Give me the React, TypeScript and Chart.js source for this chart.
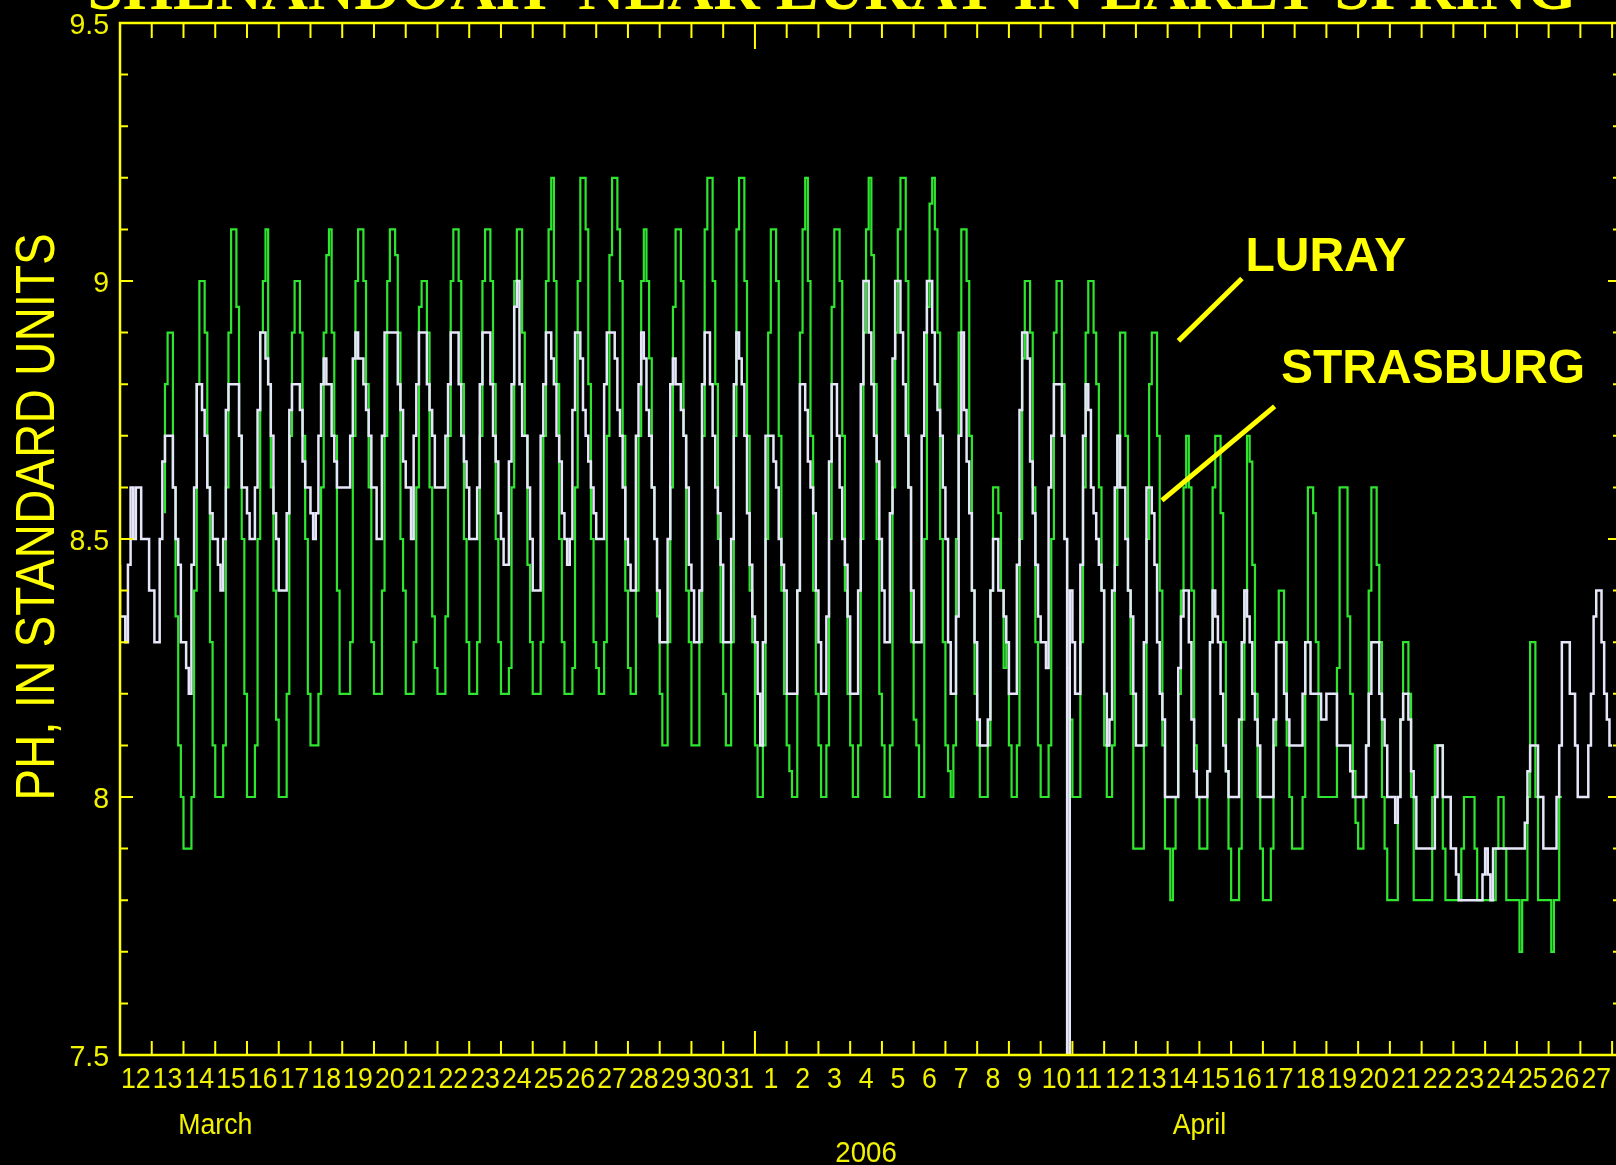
import React, { useEffect, useRef } from 'react';
import { Chart, registerables } from 'chart.js';

Chart.register(...registerables);

// ---------- data ----------
const MARCH_DAYS = [12, 13, 14, 15, 16, 17, 18, 19, 20, 21, 22, 23, 24, 25, 26, 27, 28, 29, 30, 31];
const APRIL_DAYS = [1, 2, 3, 4, 5, 6, 7, 8, 9, 10, 11, 12, 13, 14, 15, 16, 17, 18, 19, 20, 21, 22, 23, 24, 25, 26, 27];
const DAY_LABELS = [...MARCH_DAYS, ...APRIL_DAYS].map(String);
const MONTH_LABELS = ['March', 'April'];
const MONTH_LABEL_DAYS = [3.0, 34.0];
const YEAR_LABEL = '2006';
const YEAR_LABEL_DAY = 23.5;
const Y_TICK_VALUES = [9.5, 9, 8.5, 8, 7.5];
const Y_TICK_LABELS = ['9.5', '9', '8.5', '8', '7.5'];
const SLOTS_PER_DAY = 12; // one reading every 2 hours, starting 12 March 00:00

// Shenandoah near Luray (green)
const LURAY = [
  null, null, null, null, null, null, null, null, null, null, null, null,
  null, null, null, null, null, 8.55, 8.8, 8.9, 8.9, 8.6, 8.35, 8.1,
  8.0, 7.9, 7.9, 7.9, 8.0, 8.4, 8.8, 9.0, 9.0, 8.9, 8.6, 8.3,
  8.1, 8.0, 8.0, 8.0, 8.1, 8.6, 8.9, 9.1, 9.1, 8.95, 8.7, 8.5,
  8.2, 8.0, 8.0, 8.0, 8.1, 8.5, 8.9, 9.0, 9.1, 8.8, 8.6, 8.4,
  8.15, 8.0, 8.0, 8.0, 8.2, 8.7, 8.9, 9.0, 9.0, 8.9, 8.7, 8.5,
  8.2, 8.1, 8.1, 8.1, 8.2, 8.6, 8.9, 9.05, 9.1, 8.9, 8.7, 8.4,
  8.2, 8.2, 8.2, 8.2, 8.3, 8.7, 9.0, 9.1, 9.1, 9.0, 8.8, 8.6,
  8.3, 8.2, 8.2, 8.2, 8.4, 8.7, 9.0, 9.1, 9.1, 9.05, 8.9, 8.5,
  8.4, 8.2, 8.2, 8.2, 8.3, 8.6, 8.95, 9.0, 9.0, 8.9, 8.6, 8.35,
  8.25, 8.2, 8.2, 8.2, 8.35, 8.7, 9.0, 9.1, 9.1, 9.0, 8.8, 8.5,
  8.3, 8.2, 8.2, 8.2, 8.3, 8.7, 9.0, 9.1, 9.1, 9.0, 8.8, 8.5,
  8.3, 8.2, 8.2, 8.2, 8.25, 8.6, 9.0, 9.1, 9.1, 8.9, 8.7, 8.45,
  8.3, 8.2, 8.2, 8.2, 8.3, 8.7, 9.0, 9.1, 9.2, 9.0, 8.8, 8.5,
  8.3, 8.2, 8.2, 8.2, 8.25, 8.6, 9.0, 9.2, 9.2, 9.1, 8.8, 8.5,
  8.3, 8.25, 8.2, 8.2, 8.3, 8.7, 9.05, 9.2, 9.2, 9.1, 9.0, 8.7,
  8.4, 8.25, 8.2, 8.2, 8.4, 8.7, 9.0, 9.1, 9.0, 8.85, 8.6, 8.5,
  8.35, 8.2, 8.1, 8.1, 8.3, 8.6, 8.95, 9.1, 9.1, 9.0, 8.7, 8.4,
  8.3, 8.1, 8.1, 8.1, 8.3, 8.7, 9.1, 9.2, 9.2, 9.0, 8.8, 8.5,
  8.3, 8.2, 8.1, 8.1, 8.3, 8.7, 9.1, 9.2, 9.2, 9.0, 8.7, 8.4,
  8.3, 8.1, 8.0, 8.0, 8.1, 8.5, 8.9, 9.1, 9.1, 9.0, 8.7, 8.4,
  8.2, 8.1, 8.05, 8.0, 8.0, 8.4, 8.9, 9.1, 9.2, 9.0, 8.7, 8.4,
  8.2, 8.1, 8.0, 8.0, 8.1, 8.5, 8.95, 9.1, 9.1, 9.0, 8.7, 8.4,
  8.2, 8.1, 8.0, 8.0, 8.1, 8.5, 8.9, 9.1, 9.2, 9.05, 8.8, 8.5,
  8.2, 8.1, 8.0, 8.0, 8.1, 8.6, 8.9, 9.1, 9.2, 9.2, 9.0, 8.6,
  8.3, 8.15, 8.1, 8.0, 8.0, 8.5, 8.95, 9.15, 9.2, 9.1, 8.9, 8.5,
  8.3, 8.1, 8.05, 8.0, 8.1, 8.5, 8.9, 9.1, 9.1, 9.0, 8.7, 8.4,
  8.2, 8.1, 8.0, 8.0, 8.0, 8.1, 8.4, 8.6, 8.6, 8.55, 8.4, 8.25,
  8.3, 8.1, 8.0, 8.0, 8.1, 8.5, 8.85, 9.0, 9.0, 8.9, 8.6, 8.3,
  8.1, 8.0, 8.0, 8.0, 8.1, 8.5, 8.9, 9.0, 9.0, 8.8, 8.5, 8.25,
  8.15, 8.0, 8.0, 8.0, 8.3, 8.6, 8.9, 9.0, 9.0, 8.9, 8.8, 8.6,
  8.4, 8.1, 8.0, 8.0, 8.1, 8.45, 8.7, 8.9, 8.9, 8.7, 8.4, 8.2,
  7.9, 7.9, 7.9, 7.9, 8.1, 8.5, 8.8, 8.9, 8.9, 8.7, 8.4, 8.1,
  7.9, 7.9, 7.8, 7.9, 8.0, 8.2, 8.4, 8.6, 8.7, 8.6, 8.4, 8.1,
  8.0, 7.9, 7.9, 7.9, 8.05, 8.3, 8.6, 8.7, 8.7, 8.55, 8.3, 8.05,
  7.9, 7.8, 7.8, 7.8, 7.9, 8.15, 8.4, 8.7, 8.65, 8.45, 8.2, 8.0,
  7.9, 7.8, 7.8, 7.8, 7.9, 8.1, 8.3, 8.4, 8.4, 8.3, 8.1, 8.0,
  7.9, 7.9, 7.9, 7.9, 8.0, 8.3, 8.6, 8.6, 8.55, 8.3, 8.0, 8.0,
  8.0, 8.0, 8.0, 8.0, 8.0, 8.25, 8.6, 8.6, 8.6, 8.35, 8.2, 8.05,
  7.95, 7.9, 7.9, 8.0, 8.1, 8.4, 8.6, 8.6, 8.45, 8.3, 8.0, 7.9,
  7.8, 7.8, 7.8, 7.8, 8.0, 8.15, 8.3, 8.3, 8.2, 8.0, 7.8, 7.8,
  7.8, 7.8, 7.8, 7.8, 7.8, 8.0, 8.1, 8.1, 8.1, 7.9, 7.8, 7.8,
  7.8, 7.8, 7.8, 7.8, 7.9, 8.0, 8.0, 8.0, 8.0, 7.9, 7.8, 7.8,
  7.8, 7.8, 7.8, 7.8, 7.8, 7.9, 8.0, 8.0, 7.9, 7.8, 7.8, 7.8,
  7.8, 7.8, 7.7, 7.8, 7.8, 8.0, 8.3, 8.3, 8.0, 7.8, 7.8, 7.8,
  7.8, 7.8, 7.7, 7.8, 7.8, 8.0, null, null, null, null, null, null,
  null, null, null, null, null, null, null, null, null, null, null, null,
  null,
];

// North Fork Shenandoah at Strasburg (white)
const STRASBURG = [
  8.45, 8.35, 8.35, 8.3, 8.45, 8.6, 8.5, 8.6, 8.6, 8.5, 8.5, 8.5,
  8.4, 8.4, 8.3, 8.3, 8.5, 8.65, 8.7, 8.7, 8.7, 8.6, 8.5, 8.45,
  8.3, 8.3, 8.25, 8.2, 8.45, 8.6, 8.8, 8.8, 8.75, 8.7, 8.6, 8.55,
  8.5, 8.5, 8.45, 8.4, 8.5, 8.75, 8.8, 8.8, 8.8, 8.8, 8.7, 8.6,
  8.6, 8.55, 8.5, 8.5, 8.6, 8.75, 8.9, 8.9, 8.85, 8.8, 8.7, 8.55,
  8.5, 8.4, 8.4, 8.4, 8.55, 8.75, 8.8, 8.8, 8.8, 8.75, 8.65, 8.6,
  8.6, 8.55, 8.5, 8.55, 8.7, 8.8, 8.85, 8.8, 8.8, 8.7, 8.65, 8.6,
  8.6, 8.6, 8.6, 8.6, 8.7, 8.85, 8.9, 8.85, 8.85, 8.8, 8.75, 8.7,
  8.6, 8.6, 8.5, 8.5, 8.7, 8.9, 8.9, 8.9, 8.9, 8.9, 8.8, 8.75,
  8.65, 8.6, 8.6, 8.5, 8.7, 8.8, 8.9, 8.9, 8.9, 8.8, 8.75, 8.7,
  8.6, 8.6, 8.6, 8.6, 8.7, 8.8, 8.9, 8.9, 8.9, 8.8, 8.7, 8.65,
  8.6, 8.5, 8.5, 8.5, 8.6, 8.8, 8.9, 8.9, 8.9, 8.8, 8.7, 8.65,
  8.55, 8.5, 8.45, 8.45, 8.65, 8.8, 8.95, 9.0, 8.8, 8.7, 8.7, 8.6,
  8.5, 8.4, 8.4, 8.4, 8.7, 8.8, 8.9, 8.9, 8.85, 8.8, 8.7, 8.65,
  8.55, 8.5, 8.45, 8.5, 8.75, 8.9, 8.9, 8.85, 8.75, 8.7, 8.65, 8.6,
  8.55, 8.5, 8.5, 8.5, 8.8, 8.9, 8.9, 8.9, 8.85, 8.75, 8.7, 8.6,
  8.5, 8.45, 8.4, 8.4, 8.7, 8.8, 8.9, 8.85, 8.75, 8.7, 8.6, 8.5,
  8.4, 8.3, 8.3, 8.3, 8.5, 8.8, 8.85, 8.8, 8.8, 8.75, 8.7, 8.6,
  8.45, 8.4, 8.3, 8.3, 8.4, 8.8, 8.9, 8.9, 8.8, 8.7, 8.6, 8.55,
  8.45, 8.3, 8.3, 8.3, 8.5, 8.8, 8.9, 8.85, 8.8, 8.7, 8.55, 8.45,
  8.35, 8.3, 8.2, 8.1, 8.3, 8.7, 8.7, 8.7, 8.65, 8.6, 8.5, 8.45,
  8.4, 8.2, 8.2, 8.2, 8.2, 8.4, 8.8, 8.8, 8.75, 8.65, 8.6, 8.55,
  8.4, 8.3, 8.2, 8.2, 8.35, 8.65, 8.8, 8.8, 8.7, 8.6, 8.5, 8.45,
  8.35, 8.2, 8.2, 8.2, 8.4, 8.8, 9.0, 9.0, 8.9, 8.8, 8.7, 8.65,
  8.5, 8.4, 8.3, 8.3, 8.55, 8.85, 9.0, 9.0, 8.9, 8.8, 8.7, 8.6,
  8.4, 8.3, 8.3, 8.3, 8.7, 8.9, 9.0, 9.0, 8.9, 8.8, 8.75, 8.7,
  8.6, 8.5, 8.3, 8.2, 8.2, 8.35, 8.7, 8.9, 8.75, 8.65, 8.55, 8.4,
  8.3, 8.15, 8.1, 8.1, 8.1, 8.15, 8.4, 8.5, 8.5, 8.4, 8.4, 8.35,
  8.3, 8.2, 8.2, 8.2, 8.45, 8.75, 8.9, 8.9, 8.85, 8.65, 8.55, 8.45,
  8.35, 8.3, 8.3, 8.25, 8.6, 8.7, 8.8, 8.8, 8.8, 8.7, 8.5, 7.5,
  8.4, 8.3, 8.2, 8.2, 8.45, 8.7, 8.8, 8.75, 8.6, 8.55, 8.5, 8.45,
  8.4, 8.2, 8.1, 8.15, 8.4, 8.6, 8.7, 8.6, 8.6, 8.5, 8.4, 8.35,
  8.2, 8.1, 8.1, 8.1, 8.3, 8.6, 8.6, 8.55, 8.45, 8.3, 8.2, 8.15,
  8.0, 8.0, 8.0, 8.0, 8.0, 8.25, 8.35, 8.4, 8.4, 8.3, 8.15, 8.05,
  8.0, 8.0, 8.0, 8.0, 8.05, 8.3, 8.4, 8.35, 8.3, 8.2, 8.1, 8.05,
  8.0, 8.0, 8.0, 8.0, 8.15, 8.3, 8.4, 8.35, 8.3, 8.2, 8.15, 8.1,
  8.0, 8.0, 8.0, 8.0, 8.0, 8.15, 8.3, 8.3, 8.3, 8.2, 8.15, 8.1,
  8.1, 8.1, 8.1, 8.1, 8.2, 8.3, 8.3, 8.2, 8.2, 8.2, 8.2, 8.15,
  8.15, 8.2, 8.2, 8.2, 8.2, 8.1, 8.1, 8.1, 8.1, 8.1, 8.05, 8.0,
  8.0, 8.0, 8.0, 8.0, 8.1, 8.2, 8.3, 8.3, 8.3, 8.2, 8.15, 8.1,
  8.0, 8.0, 8.0, 7.95, 8.0, 8.15, 8.2, 8.2, 8.15, 8.05, 8.0, 7.9,
  7.9, 7.9, 7.9, 7.9, 7.9, 7.9, 8.0, 8.1, 8.1, 8.0, 8.0, 8.0,
  7.9, 7.9, 7.85, 7.8, 7.8, 7.8, 7.8, 7.8, 7.8, 7.8, 7.8, 7.8,
  7.85, 7.9, 7.85, 7.8, 7.9, 7.9, 7.9, 7.9, 7.9, 7.9, 7.9, 7.9,
  7.9, 7.9, 7.9, 7.9, 7.95, 8.05, 8.1, 8.1, 8.1, 8.0, 8.0, 7.9,
  7.9, 7.9, 7.9, 7.9, 8.0, 8.1, 8.3, 8.3, 8.3, 8.2, 8.2, 8.1,
  8.0, 8.0, 8.0, 8.0, 8.1, 8.2, 8.35, 8.4, 8.4, 8.3, 8.2, 8.15,
  8.1,
];

// ---------- styling ----------
const YELLOW = '#ffff00';
const LABEL_YELLOW = '#f2f200';
const GREEN = '#2fe62f';
const WHITE = '#e6e6fa';
const SANS = '"Liberation Sans", Arial, Helvetica, sans-serif';
const SERIF = '"Liberation Serif", "Times New Roman", serif';
const CANVAS_W = 1630;
const CANVAS_H = 1165;
const X_MAX = 47.28;

const ANNOTATIONS = [
  { text: 'LURAY', day: 35.45, ph: 9.019, from: [35.34, 9.005], to: [33.34, 8.884] },
  { text: 'STRASBURG', day: 36.57, ph: 8.803, from: [36.37, 8.757], to: [32.82, 8.575] },
];

function toPoints(values: (number | null)[]) {
  return values.map((v, i) => ({ x: i / SLOTS_PER_DAY, y: v }));
}

function drawScaledText(ctx: CanvasRenderingContext2D, text: string, x: number, y: number, sx: number, align: CanvasTextAlign) {
  ctx.save();
  ctx.translate(x, y);
  ctx.scale(sx, 1);
  ctx.textAlign = align;
  ctx.textBaseline = 'alphabetic';
  ctx.fillText(text, 0, 0);
  ctx.restore();
}

const frameAndLabels = {
  id: 'frameAndLabels',
  afterDraw(chart: any) {
    const { ctx, chartArea: a, scales } = chart;
    const xs = scales.x;
    const ys = scales.y;
    ctx.save();

    // frame
    ctx.strokeStyle = YELLOW;
    ctx.lineWidth = 2.5;
    ctx.strokeRect(a.left, a.top, a.right - a.left, a.bottom - a.top);

    // ticks
    ctx.lineWidth = 2;
    ctx.beginPath();
    for (let d = 1; d <= DAY_LABELS.length; d++) {
      const px = xs.getPixelForValue(d);
      const big = d === MARCH_DAYS.length;
      ctx.moveTo(px, a.bottom);
      ctx.lineTo(px, a.bottom - (big ? 24 : 14));
      ctx.moveTo(px, a.top);
      ctx.lineTo(px, a.top + (big ? 26 : 15));
    }
    for (let k = 0; k <= 20; k++) {
      const py = ys.getPixelForValue(7.5 + k * 0.1);
      const len = k % 5 === 0 ? 13 : 8;
      ctx.moveTo(a.left, py);
      ctx.lineTo(a.left + len, py);
      ctx.moveTo(a.right, py);
      ctx.lineTo(a.right - len, py);
    }
    ctx.stroke();

    // y tick labels
    ctx.fillStyle = LABEL_YELLOW;
    ctx.font = `30px ${SANS}`;
    Y_TICK_VALUES.forEach((v, i) => {
      drawScaledText(ctx, Y_TICK_LABELS[i], 109, ys.getPixelForValue(v) + 10.8, 0.95, 'right');
    });

    // day labels
    DAY_LABELS.forEach((lab, i) => {
      drawScaledText(ctx, lab, xs.getPixelForValue(i + 0.5), a.bottom + 33, 0.89, 'center');
    });
    MONTH_LABELS.forEach((m, i) => {
      drawScaledText(ctx, m, xs.getPixelForValue(MONTH_LABEL_DAYS[i]), a.bottom + 79, 0.89, 'center');
    });
    drawScaledText(ctx, YEAR_LABEL, xs.getPixelForValue(YEAR_LABEL_DAY), a.bottom + 107, 0.92, 'center');

    // axis title
    ctx.fillStyle = YELLOW;
    ctx.font = `56px ${SANS}`;
    ctx.save();
    ctx.translate(53.5, 517);
    ctx.rotate(-Math.PI / 2);
    drawScaledText(ctx, 'PH, IN STANDARD UNITS', 0, 0, 0.85, 'center');
    ctx.restore();

    // chart title (cropped at top)
    ctx.font = `bold 64px ${SERIF}`;
    drawScaledText(ctx, 'SHENANDOAH  NEAR LURAY IN EARLY SPRING', 832, 9, 1, 'center');

    // annotations
    ctx.strokeStyle = YELLOW;
    ctx.lineWidth = 5;
    ctx.lineCap = 'butt';
    ctx.font = `bold 48px ${SANS}`;
    ANNOTATIONS.forEach((an) => {
      ctx.beginPath();
      ctx.moveTo(xs.getPixelForValue(an.from[0]), ys.getPixelForValue(an.from[1]));
      ctx.lineTo(xs.getPixelForValue(an.to[0]), ys.getPixelForValue(an.to[1]));
      ctx.stroke();
      drawScaledText(ctx, an.text, xs.getPixelForValue(an.day), ys.getPixelForValue(an.ph), 1, 'left');
    });

    ctx.restore();
  },
};

export default function App() {
  const canvasRef = useRef<HTMLCanvasElement | null>(null);

  useEffect(() => {
    document.body.style.margin = '0';
    document.body.style.overflow = 'hidden';
    document.body.style.background = '#000';
    document.documentElement.style.overflow = 'hidden';
    const canvas = canvasRef.current;
    if (!canvas) return;
    const chart = new Chart(canvas, {
      type: 'line',
      data: {
        datasets: [
          {
            label: 'STRASBURG',
            data: toPoints(STRASBURG),
            borderColor: WHITE,
            borderWidth: 2.5,
            stepped: 'after',
            pointRadius: 0,
            spanGaps: false,
            order: 0,
          },
          {
            label: 'LURAY',
            data: toPoints(LURAY),
            borderColor: GREEN,
            borderWidth: 2.2,
            stepped: 'after',
            pointRadius: 0,
            spanGaps: false,
            order: 1,
          },
        ],
      },
      options: {
        responsive: false,
        animation: false,
        devicePixelRatio: 1,
        layout: { padding: { left: 120, top: 23, right: CANVAS_W - 1621, bottom: CANVAS_H - 1055 } },
        scales: {
          x: { type: 'linear', min: 0, max: X_MAX, display: false },
          y: { type: 'linear', min: 7.5, max: 9.5, display: false },
        },
        plugins: {
          legend: { display: false },
          tooltip: { enabled: false },
        },
        events: [],
      },
      plugins: [frameAndLabels],
    });
    return () => chart.destroy();
  }, []);

  return (
    <div style={{ width: CANVAS_W, height: CANVAS_H, background: '#000', overflow: 'hidden' }}>
      <canvas ref={canvasRef} width={CANVAS_W} height={CANVAS_H} style={{ display: 'block' }} />
    </div>
  );
}
